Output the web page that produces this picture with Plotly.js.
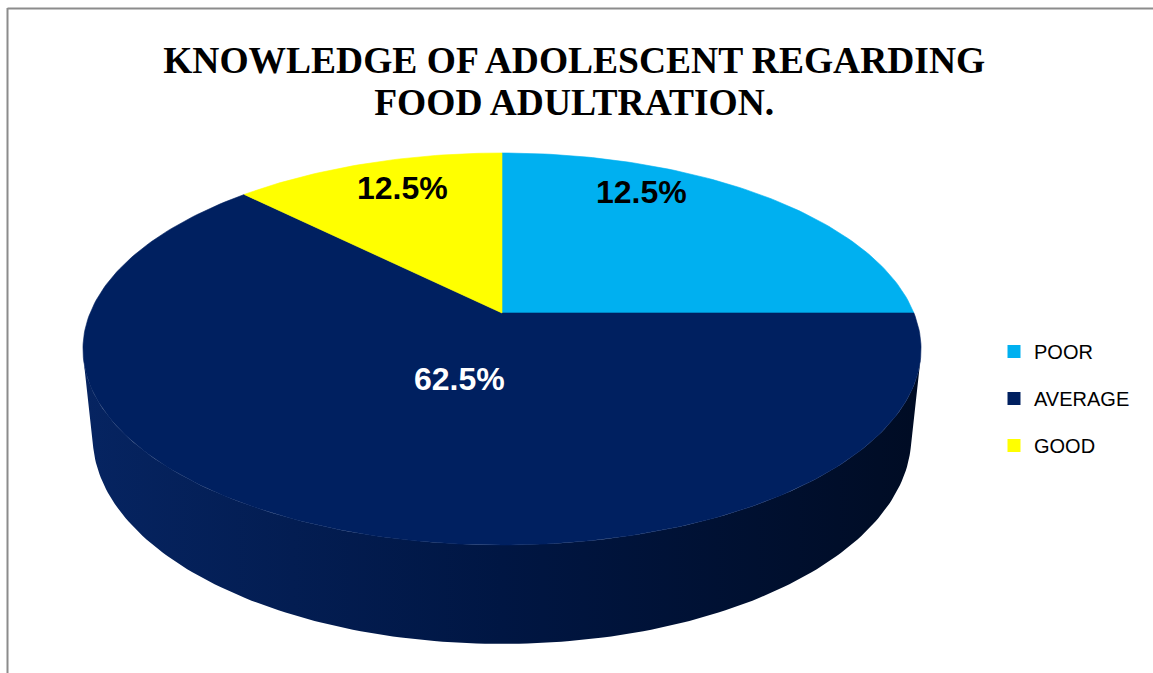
<!DOCTYPE html>
<html><head><meta charset="utf-8">
<script src="https://cdn.plot.ly/plotly-3.0.1.min.js"></script>
<style>html,body{margin:0;padding:0;background:#fff}#chart{width:1153px;height:673px}</style>
</head><body><div id="chart"></div>
<script>
// ---- data ----
const categories = ['POOR', 'AVERAGE', 'GOOD'];
const sliceShares = [25, 62.5, 12.5];              // share of the pie
const dataLabels = ['12.5%', '62.5%', '12.5%'];    // data labels as printed on the chart
const titleLines = ['KNOWLEDGE OF ADOLESCENT REGARDING', 'FOOD ADULTRATION.'];

// ---- style ----
const sliceColors = ['#00B0F0', '#002060', '#FFFF00'];
const labelColors = ['#000000', '#FFFFFF', '#000000'];
const labelPlacement = [{angle: 28, radius: 0.82}, {angle: 196.5, radius: 0.34}, {angle: 340, radius: 0.80}];

// 3-D view of a tilted disc (perspective), drawn on pixel-like axes
const view = {cx: 502, cy: 313, f: 1991.2, D: 4.834, sinT: 0.4598, cosT: 0.8880, depth: 0.2416};
function project(thetaDeg, r, Y) {
  const th = thetaDeg * Math.PI / 180;
  const X = r * Math.sin(th), Z = -r * Math.cos(th);
  const yc = Y * view.cosT - Z * view.sinT;
  const zc = view.D - (Y * view.sinT + Z * view.cosT);
  return [view.cx + view.f * X / zc, view.cy - view.f * yc / zc];
}
// silhouette angles of the cylinder wall (camera at world z = D*cosT)
const zs = 1 / (view.D * view.cosT);
const silR = Math.atan2(Math.sqrt(1 - zs * zs), -zs) * 180 / Math.PI;
const silL = 360 - silR;

function hexToRgb(h) { return [1,3,5].map(i => parseInt(h.substr(i,2),16)); }
function shade(h, k, lift) {
  const c = hexToRgb(h).map(v => Math.round(Math.min(255, v * k + (lift||0))));
  return 'rgb(' + c.join(',') + ')';
}
function arc(a0, a1, r, Y) {
  const n = Math.max(2, Math.ceil((a1 - a0) / 1));
  const pts = [];
  for (let i = 0; i <= n; i++) pts.push(project(a0 + (a1 - a0) * i / n, r, Y));
  return pts;
}

const total = sliceShares.reduce((a, b) => a + b, 0);
const bounds = [];
let cum = 0;
sliceShares.forEach(v => { const a0 = cum / total * 360; cum += v; bounds.push([a0, cum / total * 360]); });

const traces = [];
const leftX = project(270, 1, 0)[0] - 5, rightX = project(90, 1, 0)[0] + 5;

// sides (visible front part of the wall)
bounds.forEach(([a0, a1], i) => {
  const s0 = Math.max(a0, silR), s1 = Math.min(a1, silL);
  if (s1 <= s0) return;
  const top = arc(s0, s1, 1, 0);
  const bot = arc(s0, s1, 1, -view.depth).reverse();
  const pts = top.concat(bot);
  pts.push(pts[0]);
  traces.push({
    type: 'scatter', mode: 'lines', x: pts.map(p => p[0]), y: pts.map(p => p[1]),
    fill: 'toself', line: {width: 0, color: shade(sliceColors[i], 0.6)},
    fillcolor: shade(sliceColors[i], 0.6),
    fillgradient: {type: 'horizontal', start: leftX, stop: rightX,
      colorscale: [[0, shade(sliceColors[i], 0.95, 6)], [0.5, shade(sliceColors[i], 0.7)], [1, shade(sliceColors[i], 0.38)]]},
    hoverinfo: 'skip', showlegend: false
  });
});

// top faces
bounds.forEach(([a0, a1], i) => {
  const pts = [project(0, 0, 0)].concat(arc(a0, a1, 1, 0));
  pts.push(project(0, 0, 0));
  traces.push({
    type: 'scatter', mode: 'lines', x: pts.map(p => p[0]), y: pts.map(p => p[1]),
    fill: 'toself', fillcolor: sliceColors[i], line: {width: 0.6, color: sliceColors[i]},
    hoverinfo: 'skip', showlegend: false, name: categories[i]
  });
});

// legend entries
categories.forEach((c, i) => {
  traces.push({
    type: 'scatter', mode: 'markers', x: [null], y: [null], name: c, legendgroup: 'g' + i,
    marker: {symbol: 'square', size: 13, color: sliceColors[i]}, showlegend: true, hoverinfo: 'skip'
  });
});

const annotations = dataLabels.map((t, i) => {
  const p = project(labelPlacement[i].angle, labelPlacement[i].radius, 0);
  return {x: p[0], y: p[1], xref: 'x', yref: 'y', text: t, showarrow: false,
    xanchor: 'center', yanchor: 'middle',
    font: {family: 'Liberation Sans, Arial, sans-serif', size: 32, weight: 700, color: labelColors[i]}};
});

const titleHtml = titleLines.map(l => '<span style="font-size:37.5px">' + l + '</span>').join('<br>');

const layout = {
  width: 1153, height: 673, autosize: false,
  margin: {l: 0, r: 0, t: 0, b: 0},
  paper_bgcolor: '#ffffff', plot_bgcolor: 'rgba(0,0,0,0)',
  xaxis: {range: [0, 1153], visible: false, fixedrange: true},
  yaxis: {range: [673, 0], visible: false, fixedrange: true},
  title: {text: titleHtml, x: 0.498, xanchor: 'center', xref: 'paper', y: 1 - 73 / 673, yanchor: 'top', yref: 'container',
    font: {family: 'Liberation Serif, Times New Roman, serif', size: 32, weight: 700, color: '#000000'}},
  showlegend: true,
  legend: {x: 994 / 1153, xanchor: 'left', y: 1 - 332 / 673, yanchor: 'top', tracegroupgap: 18,
    bgcolor: 'rgba(0,0,0,0)', font: {family: 'Liberation Sans, Arial, sans-serif', size: 20, color: '#000000'},
    itemclick: false, itemdoubleclick: false},
  annotations: annotations,
  shapes: [
    {type: 'line', xref: 'x', yref: 'y', x0: 7.5, x1: 7.5, y0: 8, y1: 673, line: {color: '#8c8c8c', width: 2}},
    {type: 'line', xref: 'x', yref: 'y', x0: 7.5, x1: 1153, y0: 8.5, y1: 8.5, line: {color: '#8c8c8c', width: 2}}
  ],
  hovermode: false
};

Plotly.newPlot('chart', traces, layout, {displayModeBar: false, staticPlot: true});
</script>
</body></html>
